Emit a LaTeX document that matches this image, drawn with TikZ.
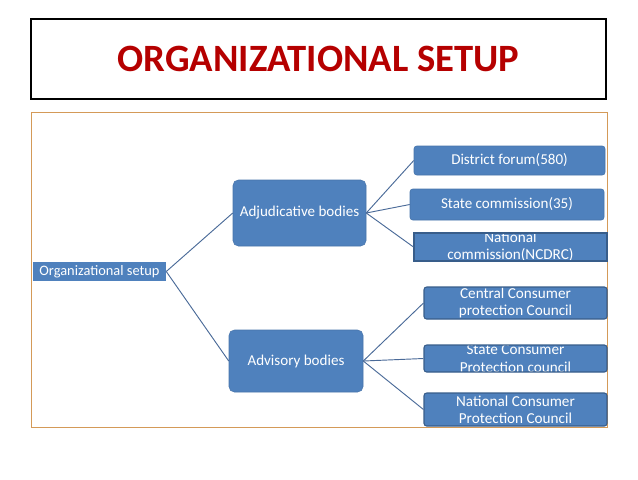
\documentclass[tikz,border=0pt]{standalone}
\usepackage{fontspec}
\setmainfont{Carlito}
\definecolor{boxblue}{HTML}{4F81BD}
\definecolor{boxedge}{HTML}{385D8A}
\definecolor{titlered}{HTML}{B50000}
\definecolor{frameorange}{HTML}{D49A58}
\definecolor{linkblue}{HTML}{4A6A98}
% text of a box that is cut off by the box edge
\newcommand{\cuttext}[1]{\node[text=white, align=center, font=\fontsize{11.4}{13}\selectfont] at (path picture bounding box.center) {#1};}

\begin{document}
\begin{tikzpicture}[x=0.75pt,y=-0.75pt,
    boxsize/.style 2 args={minimum width=#1*0.75pt, minimum height=#2*0.75pt},
    rootbox/.style={fill=boxblue, text=white, inner sep=0pt, font=\fontsize{10.8}{12}\selectfont},
    midbox/.style={fill=boxblue, draw=boxblue!90!black, rounded corners=4pt, text=white, inner sep=0pt, font=\fontsize{11.3}{13}\selectfont},
    leafbox/.style={fill=boxblue, draw=boxblue!90!black, rounded corners=2pt, text=white, inner sep=0pt, font=\fontsize{11.3}{13}\selectfont},
    cutbox/.style={fill=boxblue, draw=boxedge, line width=0.8pt, rounded corners=2pt, inner sep=0pt, path picture={\cuttext{#1}}},
    link/.style={draw=linkblue, line width=0.7pt}]
    \useasboundingbox (0,0) rectangle (638,479);
    % title and frame
    \node[draw=black, line width=1.1pt, boxsize={575}{80}, text=titlered, font=\fontsize{29}{34}\selectfont\bfseries] (title) at (318.5,59) {ORGANIZATIONAL SETUP};
    \draw[frameorange, line width=0.6pt] (31,112) rectangle (607,427);
    % boxes
    \node[rootbox, boxsize={133}{19}] (root) at (99.5,271.5) {Organizational setup};
    \node[midbox, boxsize={133}{66}] (adj) at (299.5,213) {Adjudicative bodies};
    \node[midbox, boxsize={134}{62}] (adv) at (296,361) {Advisory bodies};
    \node[leafbox, boxsize={191}{29}] (district) at (509.5,160.5) {District forum(580)};
    \node[leafbox, boxsize={194}{31}] (statecom) at (507,204.5) {State commission(35)};
    \node[cutbox={National\\commission(NCDRC)}, rounded corners=0pt, boxsize={193}{28}] (ncdrc) at (510.5,247) {};
    \node[cutbox={Central Consumer\\protection Council}, boxsize={183}{32}] (central) at (515.5,303) {};
    \node[cutbox={State Consumer\\Protection council}, boxsize={183}{27}] (statecons) at (515.5,358.5) {};
    \node[cutbox={National Consumer\\Protection Council}, boxsize={183}{33}] (natcons) at (515.5,409.5) {};
    % connectors
    \draw[link] (root.east) -- (adj.west);
    \draw[link] (root.east) -- (adv.west);
    \draw[link] (adj.east) -- (district.west);
    \draw[link] (adj.east) -- (statecom.west);
    \draw[link] (adj.east) -- (ncdrc.west);
    \draw[link] (adv.east) -- (central.west);
    \draw[link] (adv.east) -- (statecons.west);
    \draw[link] (adv.east) -- (natcons.west);
\end{tikzpicture}
\end{document}
